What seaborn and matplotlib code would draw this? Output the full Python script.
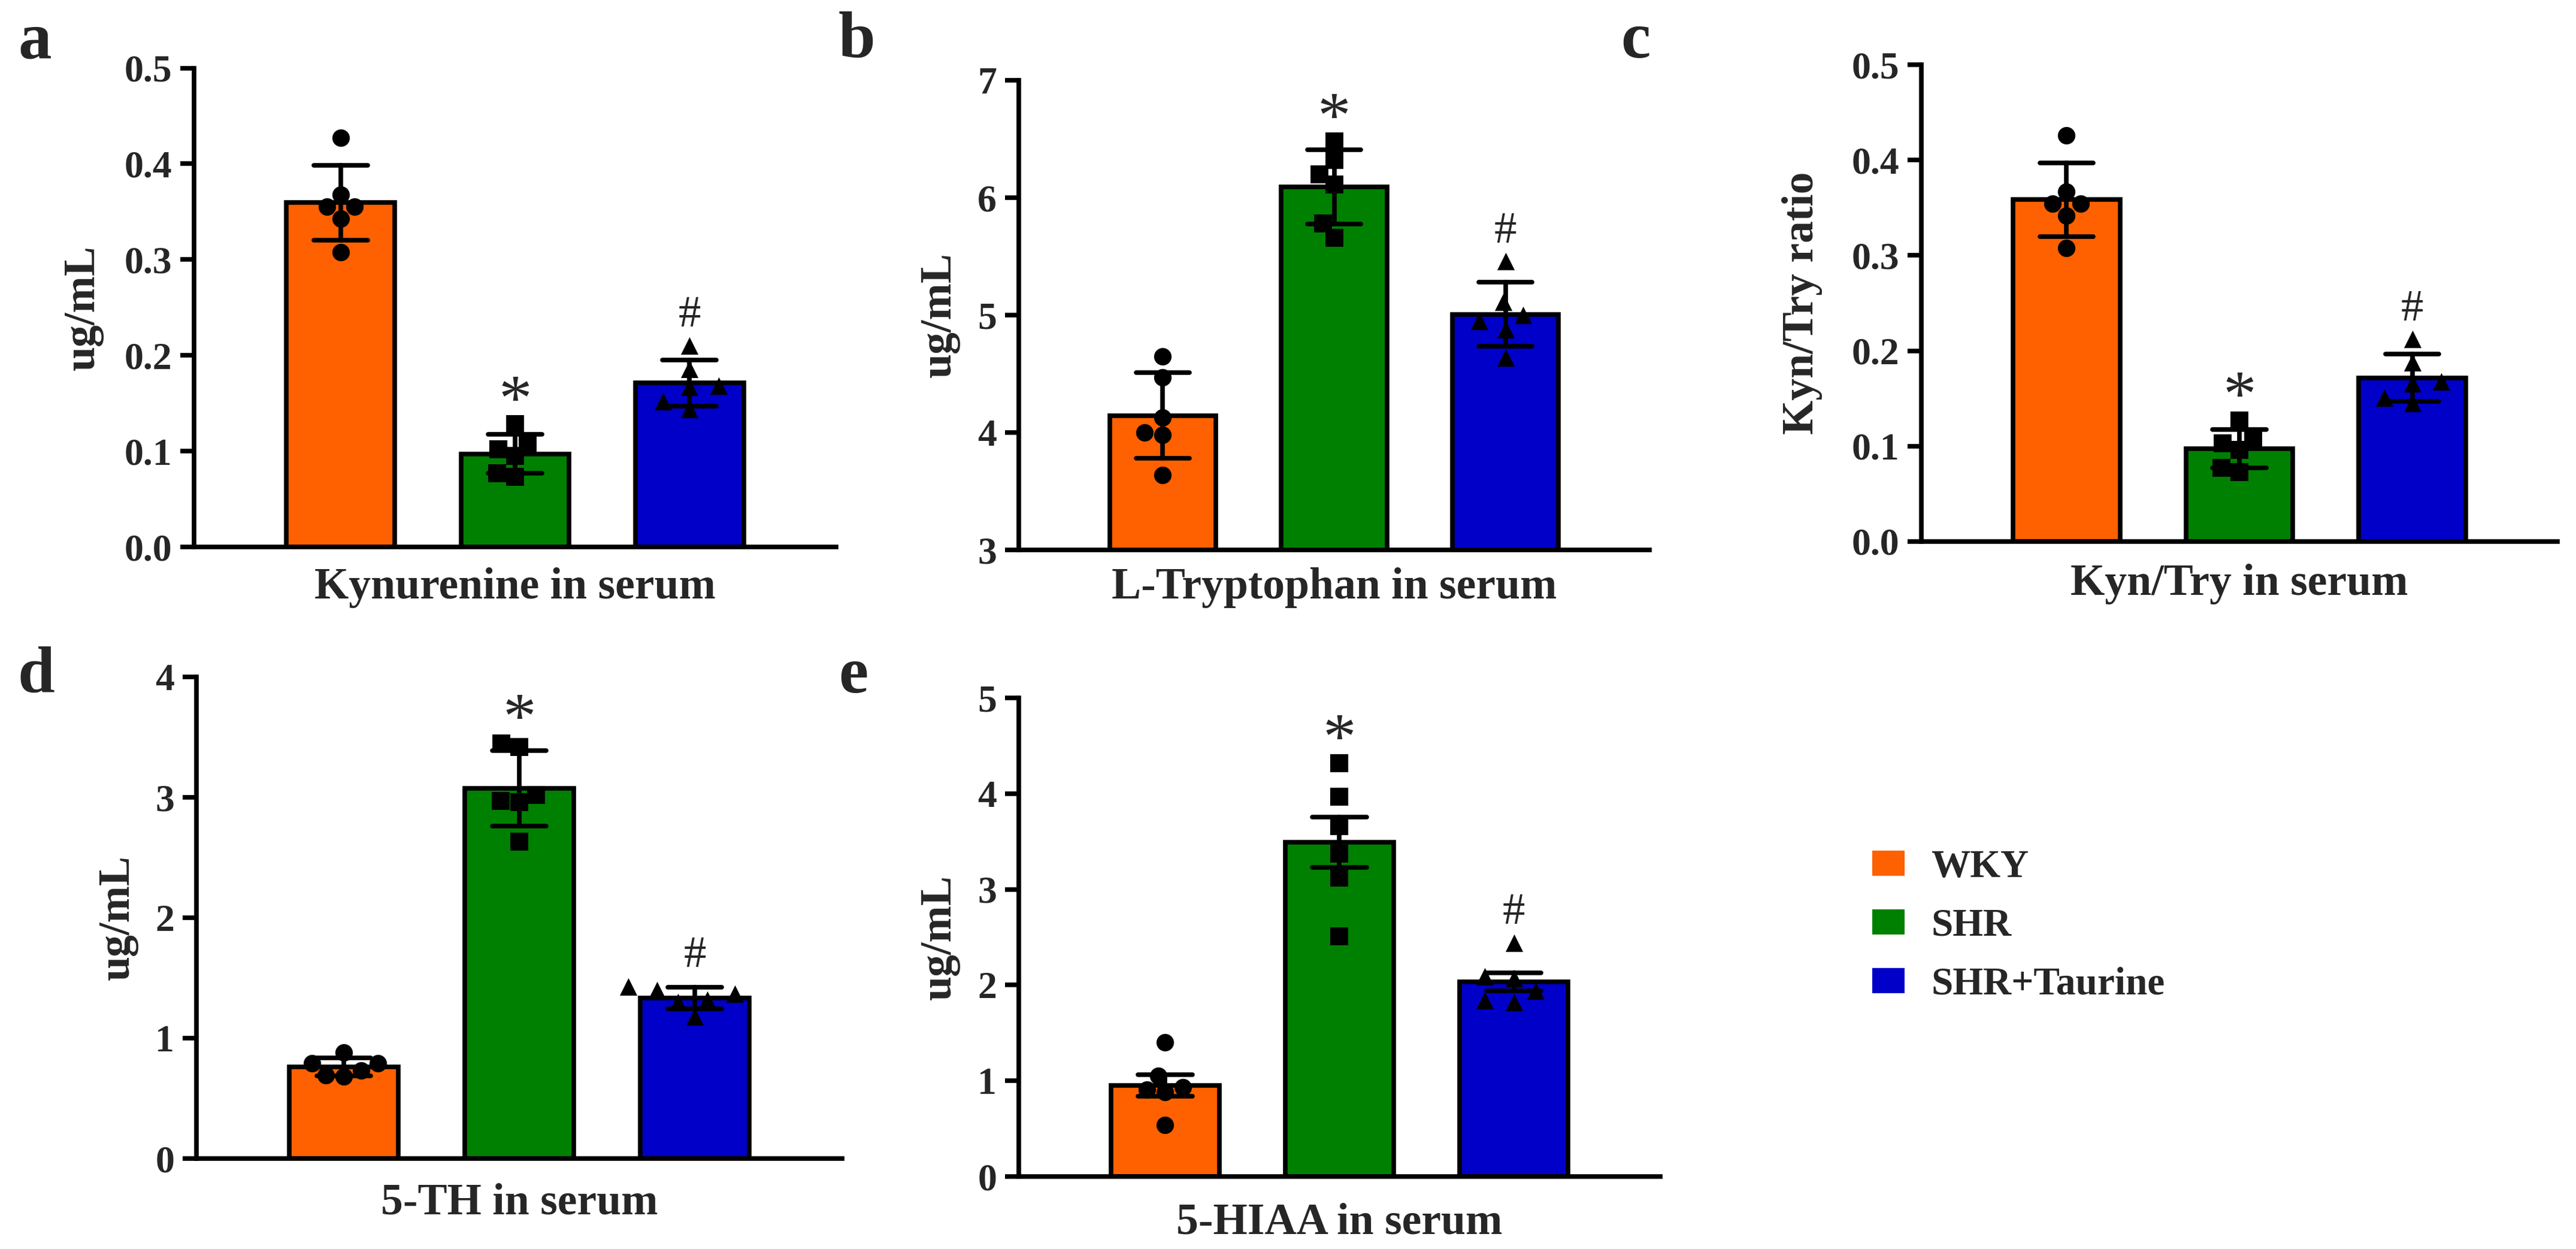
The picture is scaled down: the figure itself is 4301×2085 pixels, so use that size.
import matplotlib
matplotlib.use('Agg')
import matplotlib.pyplot as plt
from matplotlib.patches import Patch
from matplotlib.ticker import FormatStrFormatter
import pandas as pd
import seaborn as sns

groups = ['WKY', 'SHR', 'SHR+Taurine']
colors = ['#FF6000', '#008000', '#0000C8']
markers = ['o', 's', '^']

# a: Kynurenine (ug/mL)
kyn_wky = [0.427, 0.368, 0.355, 0.355, 0.343, 0.308]
kyn_shr = [0.095, 0.108, 0.128, 0.102, 0.077, 0.073]
kyn_tau = [0.210, 0.186, 0.168, 0.167, 0.152, 0.144]
# b: L-Tryptophan (ug/mL)
trp_wky = [4.65, 4.47, 4.13, 4.00, 3.98, 3.64]
trp_shr = [6.48, 6.32, 6.20, 6.11, 5.78, 5.66]
trp_tau = [5.46, 5.11, 5.00, 4.95, 4.88, 4.64]
# c: Kyn/Try ratio
ratio_wky = [0.426, 0.367, 0.354, 0.354, 0.342, 0.308]
ratio_shr = [0.096, 0.108, 0.127, 0.103, 0.077, 0.073]
ratio_tau = [0.212, 0.188, 0.168, 0.166, 0.151, 0.145]
# d: 5-TH (ug/mL)
th_wky = [0.79, 0.79, 0.73, 0.88, 0.69, 0.68]
th_shr = [3.42, 3.45, 3.02, 2.97, 2.96, 2.63]
th_tau = [1.37, 1.40, 1.30, 1.43, 1.32, 1.18]
# e: 5-HIAA (ug/mL)
hiaa_wky = [1.40, 1.05, 0.93, 0.91, 0.88, 0.54]
hiaa_shr = [4.32, 3.97, 3.66, 3.37, 3.12, 2.51]
hiaa_tau = [2.44, 2.07, 2.09, 1.94, 1.84, 1.82]

panel_letters = ['a', 'b', 'c', 'd', 'e']
xlabels = ['Kynurenine in serum', 'L-Tryptophan in serum', 'Kyn/Try in serum',
           '5-TH in serum', '5-HIAA in serum']
ylabels = ['ug/mL', 'ug/mL', 'Kyn/Try ratio', 'ug/mL', 'ug/mL']
ylims = [(0, 0.5), (3, 7), (0, 0.5), (0, 4), (0, 5)]
ysteps = [0.1, 1, 0.1, 1, 1]
yfmt = ['%.1f', '%d', '%.1f', '%d', '%d']
errbars = ['sd', 'sd', 'sd', 'sd', 'se']
values = [
    (kyn_wky, kyn_shr, kyn_tau),
    (trp_wky, trp_shr, trp_tau),
    (ratio_wky, ratio_shr, ratio_tau),
    (th_wky, th_shr, th_tau),
    (hiaa_wky, hiaa_shr, hiaa_tau),
]

sns.set_style('ticks')
plt.rcParams['font.family'] = ['Liberation Serif', 'DejaVu Serif']
plt.rcParams['font.weight'] = 'bold'
plt.rcParams['axes.labelweight'] = 'bold'

fig = plt.figure(figsize=(43.01, 20.85), dpi=100)

rects = [
    [0.07533, 0.56211, 0.24925, 0.38345],
    [0.39549, 0.55971, 0.24483, 0.37602],
    [0.74587, 0.56643, 0.24692, 0.38177],
    [0.07626, 0.07242, 0.25064, 0.38561],
    [0.39549, 0.05803, 0.24901, 0.38321],
]
ylab_x = [-0.141, -0.093, -0.155, -0.090, -0.092]
xlab_y = [-0.0425, -0.037, -0.046, -0.050, -0.054]
letter_pos = [(58, 96), (1430, 96), (2731, 96), (60, 1156), (1425, 1156)]

lw = 5.5
star_fs, hash_fs = 80, 54
swarms = []
for k in range(5):
    ax = fig.add_axes(rects[k])
    rows = []
    for g, vals in zip(groups, values[k]):
        for v in vals:
            rows.append({'group': g, 'value': v})
    df = pd.DataFrame(rows)

    sns.barplot(data=df, x='group', y='value', hue='group', order=groups,
                hue_order=groups, palette=colors, saturation=1, width=0.62,
                edgecolor='black', linewidth=lw, errorbar=errbars[k],
                capsize=0.31, err_kws={'color': 'black', 'linewidth': lw},
                legend=False, ax=ax)
    for i, g in enumerate(groups):
        sns.swarmplot(data=df[df['group'] == g], x='group', y='value', order=groups,
                      marker=markers[i], color='black', size=21, linewidth=0, ax=ax)
        swarms.append((ax.collections[-1], i))

    lo, hi = ylims[k]
    ax.set_ylim(lo, hi)
    ax.set_xlim(-0.84, 2.84)
    ticks = []
    t = lo
    while t <= hi + 1e-9:
        ticks.append(round(t, 3))
        t += ysteps[k]
    ax.set_yticks(ticks)
    ax.yaxis.set_major_formatter(FormatStrFormatter(yfmt[k]))
    ax.set_xticks([])
    ax.tick_params(axis='y', length=16.5, width=lw, pad=10, labelsize=46,
                   direction='out', color='black')
    for lab in ax.get_yticklabels():
        lab.set_fontweight('bold')
    sns.despine(ax=ax)
    for side in ['left', 'bottom']:
        ax.spines[side].set_linewidth(lw)
        ax.spines[side].set_color('black')

    ax.set_ylabel(ylabels[k], fontsize=53, fontweight='bold')
    ax.set_xlabel(xlabels[k], fontsize=53, fontweight='bold')
    ax.yaxis.set_label_coords(ylab_x[k], 0.5)
    ax.xaxis.set_label_coords(0.5, xlab_y[k])

    # significance marks above SHR and SHR+Taurine (ink centred above the top point)
    rng = hi - lo
    ax.annotate('*', xy=(1, max(values[k][1]) + 0.075 * rng),
                xytext=(0, -0.47 * star_fs), textcoords='offset points',
                ha='center', va='baseline', fontsize=star_fs, fontweight='normal')
    ax.annotate('#', xy=(2, max(values[k][2]) + 0.072 * rng),
                xytext=(0, -0.34 * hash_fs), textcoords='offset points',
                ha='center', va='baseline', fontsize=hash_fs, fontweight='normal')

    px, py = letter_pos[k]
    fig.text(px / 4301, 1 - py / 2085, panel_letters[k], ha='center', va='baseline',
             fontsize=80, fontweight='bold')

handles = [Patch(facecolor=c, edgecolor='none') for c in colors]
fig.legend(handles, groups, loc='upper left', bbox_to_anchor=(3126 / 4301, 1 - 1418 / 2085),
           frameon=False, handlelength=0.83, handleheight=0.62,
           handletextpad=0.68, labelspacing=0.58, borderpad=0, borderaxespad=0,
           prop={'weight': 'bold', 'size': 47})

# let seaborn lay out the swarms once, then widen them like the reference spacing
fig.canvas.draw()
for coll, center in swarms:
    if 'draw' in vars(coll):
        del coll.draw
    off = coll.get_offsets().copy()
    off[:, 0] = center + (off[:, 0] - center) * 1.6
    coll.set_offsets(off)

fig.savefig('out.png', dpi=100)
